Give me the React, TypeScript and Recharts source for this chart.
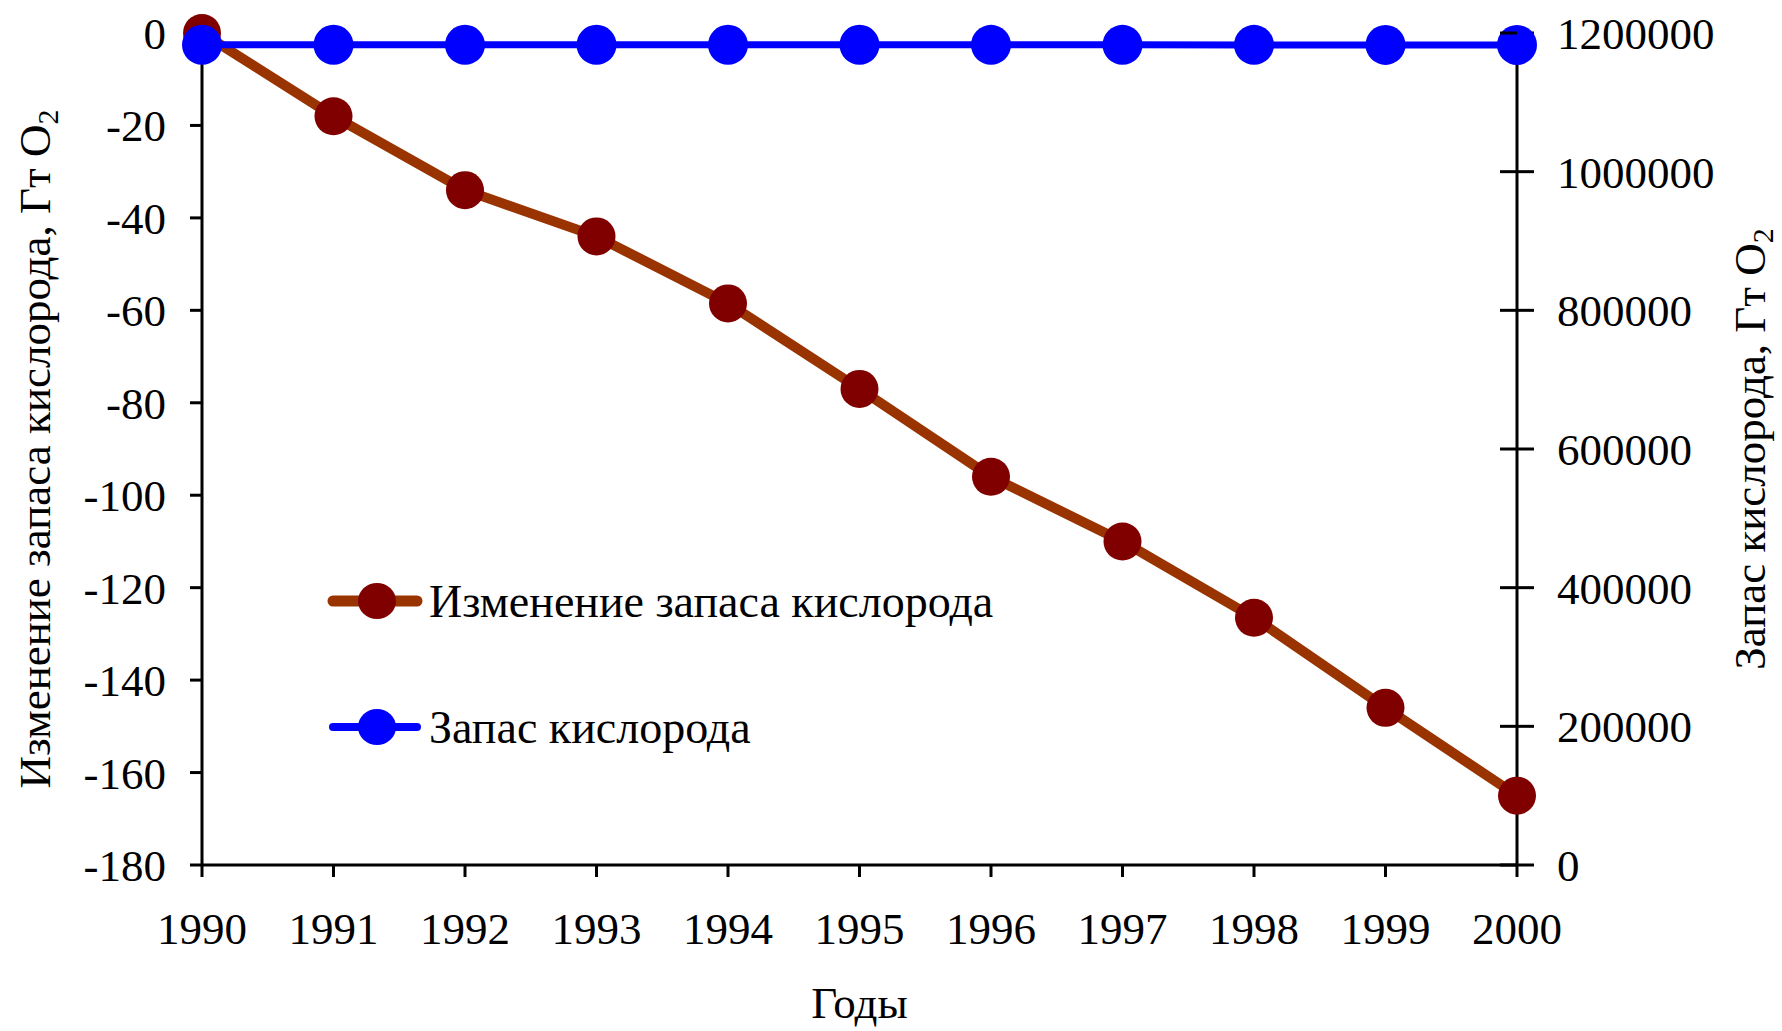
import { LineChart, Line, XAxis, YAxis, Legend, Label } from "recharts"

const years = [1990, 1991, 1992, 1993, 1994, 1995, 1996, 1997, 1998, 1999, 2000]
const oxygenChange = [0, -18, -34, -44, -58.5, -77, -96, -110, -126.5, -146, -165]
const oxygenStock = [
  1183000, 1182982, 1182966, 1182956, 1182941, 1182923, 1182904, 1182890, 1182873, 1182854, 1182835,
]
const leftTicks = [0, -20, -40, -60, -80, -100, -120, -140, -160, -180]
const rightTicks = [0, 200000, 400000, 600000, 800000, 1000000, 1200000]

const chartData = years.map((year, i) => ({
  year,
  change: oxygenChange[i],
  stock: oxygenStock[i],
}))

const FONT = '"Liberation Serif", "Times New Roman", serif'
const FONT_SIZE = 45
const RED_LINE = "#993300"
const RED_DOT = "#800000"
const BLUE = "#0000ff"

const R_TICK_SIZE = 17
const R_TICK_MARGIN = 23

// right axis ticks cross the axis line, so draw the inner half ourselves
const RightTick = (props: any) => {
  const { x, y, payload } = props
  const axisX = x - R_TICK_SIZE - R_TICK_MARGIN
  return (
    <g>
      <line x1={axisX - R_TICK_SIZE} x2={axisX} y1={y} y2={y} stroke="#000" strokeWidth={3} />
      <text x={x} y={y} dy="0.355em" textAnchor="start" fontFamily={FONT} fontSize={FONT_SIZE} fill="#000">
        {String(payload.value)}
      </text>
    </g>
  )
}

const verticalTitle = (text: string, offsetX: number) => (props: any) => {
  const { viewBox } = props
  const cx = viewBox.x + offsetX
  const cy = viewBox.y + viewBox.height / 2
  return (
    <text
      x={cx}
      y={cy}
      transform={`rotate(-90, ${cx}, ${cy})`}
      textAnchor="middle"
      fontFamily={FONT}
      fontSize={FONT_SIZE}
      fill="#000"
    >
      {text}
      <tspan>O</tspan>
      <tspan fontSize={30} dy={8}>
        2
      </tspan>
    </text>
  )
}

const LegendContent = (props: any) => {
  const items = [...(props.payload || [])].sort((a: any, b: any) =>
    a.dataKey === "change" ? -1 : b.dataKey === "change" ? 1 : 0
  )
  return (
    <div>
      {items.map((entry: any) => {
        const isRed = entry.dataKey === "change"
        return (
          <div key={entry.value} style={{ display: "flex", alignItems: "center", height: 126 }}>
            <svg width={96} height={50} style={{ marginRight: 6 }}>
              <line
                x1={6}
                x2={90}
                y1={25}
                y2={25}
                stroke={isRed ? RED_LINE : BLUE}
                strokeWidth={isRed ? 11 : 8}
                strokeLinecap="round"
              />
              <ellipse cx={50} cy={25} rx={19} ry={18} fill={isRed ? RED_DOT : BLUE} />
            </svg>
            <span style={{ fontFamily: FONT, fontSize: 46, color: "#000", whiteSpace: "nowrap" }}>
              {entry.value}
            </span>
          </div>
        )
      })}
    </div>
  )
}

export default function App() {
  return (
    <div style={{ width: 1782, height: 1031, background: "#fff" }}>
      <style>{`body{margin:0}`}</style>
      <LineChart width={1782} height={1031} data={chartData} margin={{ top: 33, right: 0, left: 0, bottom: 0 }}>
        <XAxis
          dataKey="year"
          type="number"
          domain={[1990, 2000]}
          ticks={years}
          interval={0}
          height={166}
          stroke="#000"
          axisLine={{ stroke: "#000", strokeWidth: 3 }}
          tickLine={{ stroke: "#000", strokeWidth: 3 }}
          tickSize={12}
          tickMargin={35}
          tick={{ fontFamily: FONT, fontSize: FONT_SIZE, fill: "#000" }}
        >
          <Label
            content={(p: any) => (
              <text
                x={p.viewBox.x + p.viewBox.width / 2}
                y={1018}
                textAnchor="middle"
                fontFamily={FONT}
                fontSize={FONT_SIZE}
                fill="#000"
              >
                Годы
              </text>
            )}
          />
        </XAxis>
        <YAxis
          yAxisId="left"
          domain={[-180, 0]}
          ticks={leftTicks}
          interval={0}
          width={202}
          stroke="#000"
          axisLine={{ stroke: "#000", strokeWidth: 3 }}
          tickLine={{ stroke: "#000", strokeWidth: 3 }}
          tickSize={12}
          tickMargin={24}
          tick={{ fontFamily: FONT, fontSize: FONT_SIZE, fill: "#000" }}
        >
          <Label content={verticalTitle("Изменение запаса кислорода, Гт ", 50)} />
        </YAxis>
        <YAxis
          yAxisId="right"
          orientation="right"
          domain={[0, 1200000]}
          ticks={rightTicks}
          interval={0}
          width={265}
          stroke="#000"
          axisLine={{ stroke: "#000", strokeWidth: 3 }}
          tickLine={{ stroke: "#000", strokeWidth: 3 }}
          tickSize={R_TICK_SIZE}
          tickMargin={R_TICK_MARGIN}
          tick={<RightTick />}
        >
          <Label content={verticalTitle("Запас кислорода, Гт ", 248)} />
        </YAxis>
        <Legend
          layout="vertical"
          align="center"
          verticalAlign="middle"
          content={<LegendContent />}
          wrapperStyle={{ position: "absolute", left: 327, top: 538, width: "auto", bottom: "auto", right: "auto" }}
        />
        <Line
          yAxisId="left"
          dataKey="change"
          name="Изменение запаса кислорода"
          stroke={RED_LINE}
          strokeWidth={10}
          strokeLinejoin="round"
          dot={{ r: 19, fill: RED_DOT, stroke: "none" }}
          activeDot={false}
          isAnimationActive={false}
        />
        <Line
          yAxisId="right"
          dataKey="stock"
          name="Запас кислорода"
          stroke={BLUE}
          strokeWidth={7}
          dot={{ r: 20, fill: BLUE, stroke: "none" }}
          activeDot={false}
          isAnimationActive={false}
        />
      </LineChart>
    </div>
  )
}
